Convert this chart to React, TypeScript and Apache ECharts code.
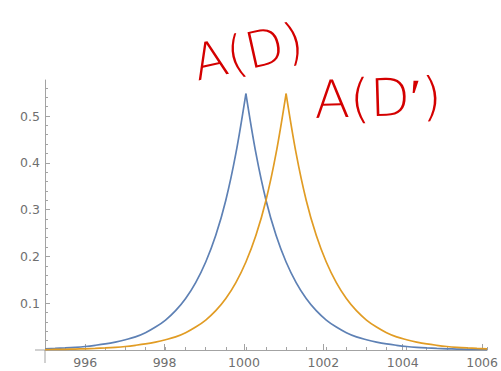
import React, { useEffect, useRef } from "react";
import * as echarts from "echarts";

// x positions (shared by both curves)
const xValues: number[] = [
  995, 995.25, 995.5, 995.75, 996, 996.25, 996.5, 996.75, 997, 997.25, 997.5, 997.75,
  998, 998.25, 998.5, 998.75, 999, 999.25, 999.5, 999.75, 1000, 1000.25, 1000.5, 1000.75,
  1001, 1001.25, 1001.5, 1001.75, 1002, 1002.25, 1002.5, 1002.75, 1003, 1003.25, 1003.5,
  1003.75, 1004, 1004.25, 1004.5, 1004.75, 1005, 1005.25, 1005.5, 1005.75, 1006,
];

// blue curve, A(D), peak at 1000
const blueValues: number[] = [
  0.0026, 0.0034, 0.0044, 0.0057, 0.0075, 0.01, 0.013, 0.017, 0.022, 0.028, 0.037, 0.049,
  0.064, 0.084, 0.11, 0.144, 0.188, 0.245, 0.32, 0.42, 0.548, 0.42, 0.32, 0.245,
  0.188, 0.144, 0.11, 0.084, 0.064, 0.049, 0.037, 0.028, 0.022, 0.017, 0.013,
  0.01, 0.0075, 0.0057, 0.0044, 0.0034, 0.0026, 0.002, 0.0015, 0.0012, 0.0009,
];

// orange curve, A(D'), peak at 1001
const orangeValues: number[] = [
  0.0009, 0.0012, 0.0015, 0.002, 0.0026, 0.0034, 0.0044, 0.0057, 0.0075, 0.01, 0.013, 0.017,
  0.022, 0.028, 0.037, 0.049, 0.064, 0.084, 0.11, 0.144, 0.188, 0.245, 0.32, 0.42,
  0.548, 0.42, 0.32, 0.245, 0.188, 0.144, 0.11, 0.084, 0.064, 0.049, 0.037,
  0.028, 0.022, 0.017, 0.013, 0.01, 0.0075, 0.0057, 0.0044, 0.0034, 0.0026,
];

const xMin = 995;
const xMax = 1006;
const yMax = 0.577;

const annotationLabels = ["A(D)", "A(D\u2032)"];

export default function App() {
  const ref = useRef<HTMLDivElement>(null);

  useEffect(() => {
    if (!ref.current) return;
    const chart = echarts.init(ref.current, null, { renderer: "svg" });

    const left = 45;
    const right = 14;
    const bottom = 21;
    const top = 80;
    const plotH = 371 - top - bottom;
    const pxPerY = plotH / yMax;
    const plotW = 501 - left - right;
    const pxPerX = plotW / (xMax - xMin);

    const axisColor = "#a3a3a3";
    const labelColor = "#6f6f6f";
    const font = "DejaVu Sans";

    const halves = (vals: number[]) => {
      const peak = vals.indexOf(Math.max(...vals));
      const pts = xValues.map((x, i) => [x, vals[i]]);
      return [pts.slice(0, peak + 1), pts.slice(peak)];
    };

    const curve = (data: number[][], color: string) => ({
      type: "line", xAxisIndex: 0, yAxisIndex: 0, showSymbol: false, symbol: "none",
      smooth: 0.35, data, lineStyle: { color, width: 1.7 }, z: 3,
    });

    const [blueL, blueR] = halves(blueValues);
    const [orangeL, orangeR] = halves(orangeValues);

    const option: any = {
      animation: false,
      backgroundColor: "#ffffff",
      grid: [
        { left, right, top, bottom },
        { left: left + pxPerX, right, top, bottom },
        { left, right, top: 371 - bottom - 0.56 * pxPerY, bottom },
        { left, right, top: 371 - bottom - 0.5 * pxPerY, bottom },
      ],
      xAxis: [
        {
          type: "value", gridIndex: 0, min: xMin, max: xMax, interval: 0.5,
          axisLine: { show: true, lineStyle: { color: axisColor, width: 1 } },
          axisTick: { show: true, inside: true, length: 3, lineStyle: { color: axisColor } },
          axisLabel: { show: false },
          splitLine: { show: false },
        },
        {
          type: "value", gridIndex: 1, min: 996, max: xMax, interval: 2,
          axisLine: { show: false },
          axisTick: { show: true, inside: true, length: 6, lineStyle: { color: axisColor } },
          axisLabel: {
            show: true, color: labelColor, fontFamily: font, fontSize: 12.5, margin: 6,
            formatter: (v: number) => String(v),
          },
          splitLine: { show: false },
        },
        { type: "value", gridIndex: 2, show: false, min: 0, max: 1 },
        { type: "value", gridIndex: 3, show: false, min: 0, max: 1 },
      ],
      yAxis: [
        {
          type: "value", gridIndex: 0, min: 0, max: yMax,
          axisLine: { show: true, lineStyle: { color: axisColor, width: 1 } },
          axisTick: { show: false },
          axisLabel: { show: false },
          splitLine: { show: false },
        },
        { type: "value", gridIndex: 1, show: false, min: 0, max: 1 },
        {
          type: "value", gridIndex: 2, min: 0, max: 0.56, interval: 0.02,
          axisLine: { show: false },
          axisTick: { show: true, inside: true, length: 3, lineStyle: { color: axisColor } },
          axisLabel: { show: false },
          splitLine: { show: false },
        },
        {
          type: "value", gridIndex: 3, min: 0, max: 0.5, interval: 0.1,
          axisLine: { show: false },
          axisTick: { show: true, inside: true, length: 5, lineStyle: { color: axisColor } },
          axisLabel: {
            show: true, color: labelColor, fontFamily: font, fontSize: 12.5, margin: 5,
            formatter: (v: number) => (v === 0 ? "" : v.toFixed(1)),
          },
          splitLine: { show: false },
        },
      ],
      series: [
        curve(blueL, "#5E81B5"),
        curve(blueR, "#5E81B5"),
        curve(orangeL, "#E19C24"),
        curve(orangeR, "#E19C24"),
      ],
      graphic: [
        {
          type: "line",
          shape: { x1: 35, y1: 371 - bottom, x2: left, y2: 371 - bottom },
          style: { stroke: axisColor, lineWidth: 1 },
        },
        {
          type: "line",
          shape: { x1: left, y1: 371 - bottom, x2: left, y2: 363 },
          style: { stroke: axisColor, lineWidth: 1 },
        },
        {
          type: "text", x: 248, y: 52, rotation: 0.22,
          style: {
            text: annotationLabels[0], fill: "#d40000", fontSize: 50,
            fontFamily: font, fontWeight: 200, align: "center", verticalAlign: "middle",
          },
        },
        {
          type: "text", x: 378, y: 98, rotation: 0.03,
          style: {
            text: annotationLabels[1], fill: "#d40000", fontSize: 52,
            fontFamily: font, fontWeight: 200, align: "center", verticalAlign: "middle",
          },
        },
      ],
    };

    chart.setOption(option);
    return () => chart.dispose();
  }, []);

  return (
    <div
      ref={ref}
      style={{ position: "fixed", left: 0, top: 0, width: 501, height: 371 }}
    />
  );
}
